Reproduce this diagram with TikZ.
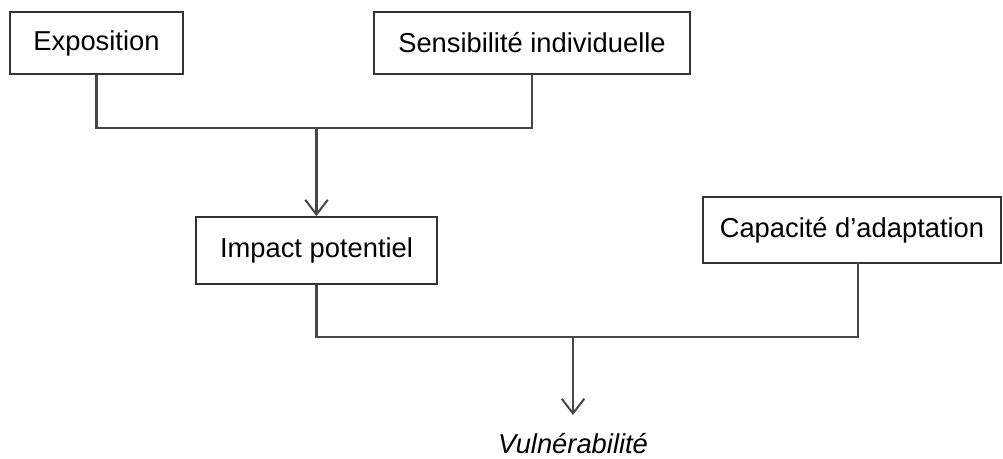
\documentclass[tikz,border=0pt]{standalone}
\usepackage{fontspec}
\setmainfont{Liberation Sans}
\usetikzlibrary{arrows.meta}
\tikzset{
  box/.style={draw=black!80, line width=1.4pt, fill=white, inner sep=0pt, align=center,
    font=\fontsize{20.5}{24}\selectfont},
  conn/.style={draw=black!72, line width=1.7pt},
  arr/.style={conn, -{Straight Barb[length=11pt,width=17pt,line width=1.5pt]}}
}
\begin{document}
\begin{tikzpicture}[x=0.75pt,y=-0.75pt]
\useasboundingbox[fill=white] (0,0) rectangle (1003,458);
\node[box, minimum width=129.75pt, minimum height=46.5pt] (expo) at (96.5,43) {Exposition};
\node[box, minimum width=237pt, minimum height=46.5pt] (sens) at (532,43) {Sensibilité individuelle};
\node[box, minimum width=180.75pt, minimum height=50.25pt] (impact) at (316.5,250.5) {Impact potentiel};
\node[box, minimum width=223.5pt, minimum height=49.5pt] (capa) at (852,230) {Capacité d’adaptation};
\node[font=\fontsize{20.5}{24}\selectfont\itshape, inner sep=0pt] (vuln) at (573,444) {Vulnérabilité};
\coordinate (j1) at (316.5,128);
\coordinate (j2) at (573,337);
\coordinate (cdrop) at (858,263);
\coordinate (vtop) at (573,415);
\draw[conn] (expo.south) |- (j1) -| (sens.south);
\draw[arr] (j1) -- (impact.north);
\draw[conn] (impact.south) |- (j2) -| (cdrop);
\draw[arr] (j2) -- (vtop);
\end{tikzpicture}
\end{document}
